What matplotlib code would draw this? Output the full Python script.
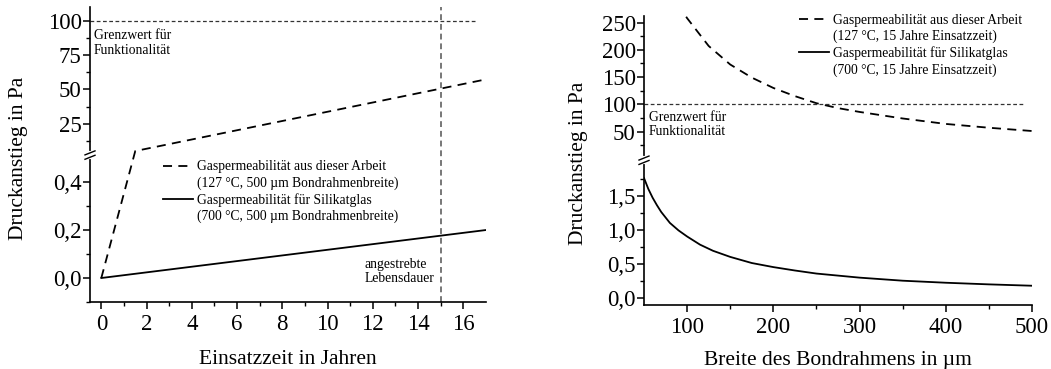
import numpy as np
import matplotlib
matplotlib.use("Agg")
import matplotlib.pyplot as plt
from matplotlib.lines import Line2D

plt.rcParams['font.family'] = ['Liberation Serif', 'DejaVu Serif']

# links: Druckanstieg über die Einsatzzeit (500 µm Bondrahmen)
jahre_arbeit = [0, 1.5, 17]
druck_arbeit = [0, 5.1, 57.3]
jahre_glas = [0, 17]
druck_glas = [0, 0.2]

# rechts: Druckanstieg nach 15 Jahren über der Rahmenbreite
breite_arbeit = [90, 95, 100, 125, 150, 175, 200, 225, 250, 275, 300, 350, 400, 450, 500]
druck_breite_arbeit = [285, 270, 258, 207, 173, 149, 130, 115, 102, 93, 86, 74, 64, 57, 51]
breite_glas = [50, 55, 60, 65, 70, 80, 90, 100, 115, 130, 150, 175, 200, 225, 250, 300, 350, 400, 450, 500]
druck_breite_glas = [1.76, 1.60, 1.47, 1.36, 1.26, 1.10, 0.99, 0.90, 0.78, 0.69, 0.60, 0.51, 0.45, 0.40,
                     0.355, 0.295, 0.25, 0.22, 0.196, 0.176]

grenzwert = 100
lebensdauer = 15

ticks_jahre = [0, 2, 4, 6, 8, 10, 12, 14, 16]
ticks_links_unten = [0.0, 0.2, 0.4]
ticks_links_oben = [25, 50, 75, 100]
ticks_breite = [100, 200, 300, 400, 500]
ticks_rechts_unten = [0.0, 0.5, 1.0, 1.5]
ticks_rechts_oben = [50, 100, 150, 200, 250]


def komma(v):
    return ('%.1f' % v).replace('.', ',')


def bruch_skala(ax, unten, oben, anteil, luecke=0.0):
    # stückweise lineare y-Achse mit Achsenbruch
    a0, a1 = unten
    b0, b1 = oben

    def vor(y):
        y = np.asarray(y, dtype=float)
        lo = (y - a0) / (a1 - a0) * anteil
        hi = anteil + luecke + (y - b0) / (b1 - b0) * (1 - anteil - luecke)
        return np.where(y <= a1, lo, hi)

    def zurueck(t):
        t = np.asarray(t, dtype=float)
        lo = a0 + t / anteil * (a1 - a0)
        hi = b0 + (t - anteil - luecke) / (1 - anteil - luecke) * (b1 - b0)
        return np.where(t <= anteil, lo, np.where(t < anteil + luecke, a1, hi))

    ax.set_yscale('function', functions=(vor, zurueck))
    ax.set_ylim(a0, b1)


def bruch_zeichen(ax, pos, breite_px, hoehe_px):
    dx = 5.0 / breite_px
    dy = 2.0 / hoehe_px
    s = 2.2 / hoehe_px
    ax.plot([0, 0], [pos - s, pos + s], color='white', lw=3, transform=ax.transAxes,
            clip_on=False, zorder=5)
    for off in (-s, s):
        ax.plot([-dx, dx], [pos + off - dy, pos + off + dy], color='black', lw=1.0,
                transform=ax.transAxes, clip_on=False, zorder=6)


def achsen_stil(ax):
    for s in ('top', 'right'):
        ax.spines[s].set_visible(False)
    for s in ('left', 'bottom'):
        ax.spines[s].set_linewidth(1.2)
    ax.tick_params(which='major', direction='out', length=5, width=1.1, labelsize=16.5, pad=1)
    ax.tick_params(which='minor', direction='out', length=3, width=1.0)
    ax.tick_params(axis='x', which='major', pad=4)


fig = plt.figure(figsize=(10.51, 3.69), dpi=100)

# ---------- linkes Diagramm ----------
ax1 = fig.add_axes([90 / 1051, 67 / 369, 396 / 1051, 295 / 369])
bruch_skala(ax1, (-0.1, 0.5), (0, 110), 0.488)
ax1.set_xlim(-0.5, 17)
achsen_stil(ax1)

l_arbeit, = ax1.plot(jahre_arbeit, druck_arbeit, color='black', lw=1.3, ls=(0, (5, 3.5)))
l_glas, = ax1.plot(jahre_glas, druck_glas, color='black', lw=1.3)
ax1.axhline(grenzwert, xmin=0, xmax=0.977, color='#333333', lw=0.9, ls=(0, (3, 2)))
ax1.axvline(lebensdauer, color='#777777', lw=1.4, ls=(0, (3, 2)))

ax1.set_xticks(ticks_jahre)
ax1.set_xticks(np.arange(1, 17, 2), minor=True)
ax1.set_yticks(ticks_links_unten + ticks_links_oben,
               [komma(v) for v in ticks_links_unten] + [str(v) for v in ticks_links_oben])
ax1.set_yticks([-0.1, 0.1, 0.3, 12.5, 37.5, 62.5, 87.5], minor=True)
ax1.yaxis.set_minor_formatter(plt.NullFormatter())

ax1.set_xlabel('Einsatzzeit in Jahren', fontsize=15.5)
ax1.xaxis.set_label_coords(0.5, -0.162)
ax1.set_ylabel('Druckanstieg in Pa', fontsize=15.5)
ax1.yaxis.set_label_coords(-0.157, 0.488)

ax1.text(0.01, 0.925, 'Grenzwert für\nFunktionalität', transform=ax1.transAxes,
         fontsize=9.8, va='top', ha='left', linespacing=1.15)
ax1.text(0.694, 0.15, 'angestrebte\nLebensdauer', transform=ax1.transAxes,
         fontsize=9.8, va='top', ha='left', linespacing=1.15)

leer = Line2D([], [], linestyle='none')
ax1.legend([l_arbeit, leer, l_glas, leer],
           ['Gaspermeabilität aus dieser Arbeit', '(127 °C, 500 µm Bondrahmenbreite)',
            'Gaspermeabilität für Silikatglas', '(700 °C, 500 µm Bondrahmenbreite)'],
           loc='upper left', bbox_to_anchor=(0.184, 0.48), frameon=False, fontsize=9.8,
           borderpad=0, borderaxespad=0, handlelength=2.2, handletextpad=0.3,
           labelspacing=0.22)
bruch_zeichen(ax1, 0.498, 396, 295)

# ---------- rechtes Diagramm ----------
ax2 = fig.add_axes([644 / 1051, 64.5 / 369, 388 / 1051, 288.5 / 369])
bruch_skala(ax2, (-0.1, 2.0), (0, 262), 0.495, 0.01)
ax2.set_xlim(50, 500)
achsen_stil(ax2)

r_arbeit, = ax2.plot(breite_arbeit, druck_breite_arbeit, color='black', lw=1.3, ls=(0, (5, 3.5)))
r_glas, = ax2.plot(breite_glas, druck_breite_glas, color='black', lw=1.3)
ax2.axhline(grenzwert, xmin=0, xmax=0.982, color='#333333', lw=0.9, ls=(0, (3, 2)))

ax2.set_xticks(ticks_breite)
ax2.set_xticks([150, 250, 350, 450], minor=True)
ax2.set_yticks(ticks_rechts_unten + ticks_rechts_oben,
               [komma(v) for v in ticks_rechts_unten] + [str(v) for v in ticks_rechts_oben])
ax2.set_yticks([0.25, 0.75, 1.25, 1.75, 25, 75, 125, 175, 225], minor=True)
ax2.yaxis.set_minor_formatter(plt.NullFormatter())

ax2.set_xlabel('Breite des Bondrahmens in µm', fontsize=15.5)
ax2.xaxis.set_label_coords(0.5, -0.16)
ax2.set_ylabel('Druckanstieg in Pa', fontsize=15.5)
ax2.yaxis.set_label_coords(-0.145, 0.49)

ax2.text(0.013, 0.672, 'Grenzwert für\nFunktionalität', transform=ax2.transAxes,
         fontsize=9.8, va='top', ha='left', linespacing=1.15)

ax2.legend([r_arbeit, leer, r_glas, leer],
           ['Gaspermeabilität aus dieser Arbeit', '(127 °C, 15 Jahre Einsatzzeit)',
            'Gaspermeabilität für Silikatglas', '(700 °C, 15 Jahre Einsatzzeit)'],
           loc='upper left', bbox_to_anchor=(0.40, 1.007), frameon=False, fontsize=9.8,
           borderpad=0, borderaxespad=0, handlelength=2.2, handletextpad=0.3,
           labelspacing=0.22)
bruch_zeichen(ax2, 0.5, 388, 288.5)

fig.savefig('out.png', dpi=100)
